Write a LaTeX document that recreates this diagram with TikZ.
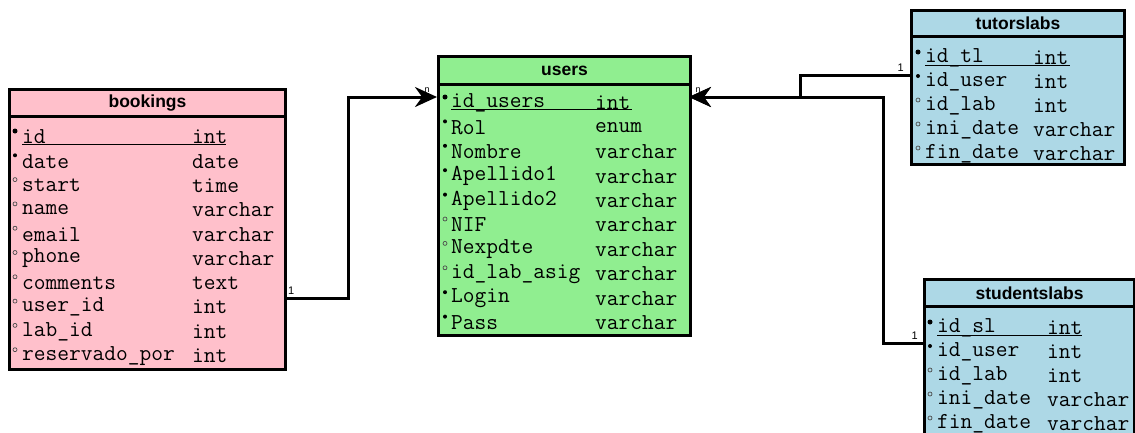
\documentclass[tikz,border=0pt]{standalone}
\usepackage{fontspec}
\setmainfont{Liberation Sans}
\usetikzlibrary{arrows.meta}

\definecolor{bkpink}{RGB}{255,192,203}
\definecolor{usgreen}{RGB}{144,238,144}
\definecolor{labblue}{RGB}{173,216,230}

\tikzset{
  tblhead/.style={draw=black, line width=3pt, anchor=north west, inner sep=0pt,
                  font=\fontsize{17.5}{18}\selectfont\bfseries},
  tblbody/.style={draw=black, line width=3pt, anchor=north west, inner sep=0pt},
  fldtxt/.style={anchor=west, inner sep=0pt, font=\ttfamily\fontsize{22.8}{24}\selectfont},
  pkdot/.style={fill=black, circle, inner sep=0pt, minimum size=5pt},
  nndot/.style={fill=black, circle, inner sep=0pt, minimum size=4pt},
  nldot/.style={draw=black!70, line width=0.7pt, circle, inner sep=0pt, minimum size=4pt},
  card/.style={inner sep=0pt, font=\fontsize{11}{12}\selectfont},
  rel/.style={line width=3pt, draw=black},
}

\begin{document}
\begin{tikzpicture}[x=1pt, y=-1pt]
    \useasboundingbox (0,0) rectangle (1135,432);
    \clip (0,0) rectangle (1135,432);

    % --- 1. bookings ---
    \node[tblbody, fill=bkpink, minimum width=276pt, minimum height=253pt] (bookings-b) at (8,115) {};
    \node[tblhead, fill=bkpink, minimum width=276pt, minimum height=27pt] (bookings) at (8,88) {bookings};
    \foreach \nm/\ty/\mk [count=\i from 0] in {id/int/pkdot, date/date/nndot, start/time/nldot,
        name/varchar/nldot, email/varchar/nldot, phone/varchar/nldot, comments/text/nldot,
        user\_id/int/nldot, lab\_id/int/nldot, reservado\_por/int/nldot}
    {
      \node[fldtxt] (bk-n\i) at (22, 137+24.3*\i) {\nm};
      \node[fldtxt] (bk-t\i) at (192, 137+24.3*\i) {\ty};
      \node[\mk] (bk-m\i) at (15, 131+24.3*\i) {};
    }
    \draw[line width=1pt] (22,144) -- (226,144); % clave primaria

    % --- 2. users ---
    \node[tblbody, fill=usgreen, minimum width=252pt, minimum height=251pt] (users-b) at (437,83) {};
    \node[tblhead, fill=usgreen, minimum width=252pt, minimum height=28pt] (users) at (437,55) {users};
    \foreach \nm/\ty/\mk [count=\i from 0] in {id\_users/int/pkdot, Rol/enum/nndot, Nombre/varchar/nndot,
        Apellido1/varchar/nndot, Apellido2/varchar/nndot, NIF/varchar/nldot, Nexpdte/varchar/nldot,
        id\_lab\_asig/varchar/nldot, Login/varchar/nndot, Pass/varchar/nndot}
    {
      \node[fldtxt] (us-n\i) at (451, 103+24.4*\i) {\nm};
      \node[fldtxt] (us-t\i) at (595, 103+24.4*\i) {\ty};
      \node[\mk] (us-m\i) at (445, 97+24.4*\i) {};
    }
    \draw[line width=1pt] (451,109) -- (632,109);

    % --- 3. tutorslabs ---
    \node[tblbody, fill=labblue, minimum width=213pt, minimum height=128pt] (tutors-b) at (910,35) {};
    \node[tblhead, fill=labblue, minimum width=213pt, minimum height=26pt] (tutors) at (910,9) {tutorslabs};
    \foreach \nm/\ty/\mk [count=\i from 0] in {id\_tl/int/pkdot, id\_user/int/nndot, id\_lab/int/nldot,
        ini\_date/varchar/nldot, fin\_date/varchar/nldot}
    {
      \node[fldtxt] (tl-n\i) at (925, 58+24*\i) {\nm};
      \node[fldtxt] (tl-t\i) at (1033, 58+24*\i) {\ty};
      \node[\mk] (tl-m\i) at (918, 52+24*\i) {};
    }
    \draw[line width=1pt] (925,65) -- (1070,65);

    % --- 4. studentslabs (cortada abajo) ---
    \node[tblbody, fill=labblue, minimum width=210pt, minimum height=150pt] (students-b) at (923,305) {};
    \node[tblhead, fill=labblue, minimum width=210pt, minimum height=27pt] (students) at (923,278) {studentslabs};
    \foreach \nm/\ty/\mk [count=\i from 0] in {id\_sl/int/pkdot, id\_user/int/nndot, id\_lab/int/nldot,
        ini\_date/varchar/nldot, fin\_date/varchar/nldot}
    {
      \node[fldtxt] (sl-n\i) at (937, 328+24*\i) {\nm};
      \node[fldtxt] (sl-t\i) at (1047, 328+24*\i) {\ty};
      \node[\mk] (sl-m\i) at (930, 322+24*\i) {};
    }
    \draw[line width=1pt] (937,335) -- (1082,335);

    % --- 5. relaciones ---
    \coordinate (bk-out) at (284,298);
    \coordinate (us-in)  at (437,97);
    \coordinate (us-in2) at (689,97);
    \coordinate (tl-out) at (910,75);
    \coordinate (sl-out) at (923,343);

    \node[card, anchor=south west] (bk-c) at (288,295) {1};
    \node[card, anchor=south east] (tl-c) at (904,72) {1};
    \node[card, anchor=south east] (sl-c) at (918,340) {1};
    \node[card, font=\fontsize{9}{10}\selectfont] (us-c1) at (427,90) {n};
    \node[card, font=\fontsize{9}{10}\selectfont] (us-c2) at (698,90) {n};

    \draw[rel, -{Stealth[length=22pt, width=20pt]}] (bk-out) -- ++(64,0) |- (us-in);
    \draw[rel, -{Stealth[length=22pt, width=20pt]}] (tl-out) -- ++(-110,0) |- (us-in2);
    \draw[rel, -{Stealth[length=22pt, width=20pt]}] (sl-out) -- ++(-40,0) |- (us-in2);

\end{tikzpicture}
\end{document}
